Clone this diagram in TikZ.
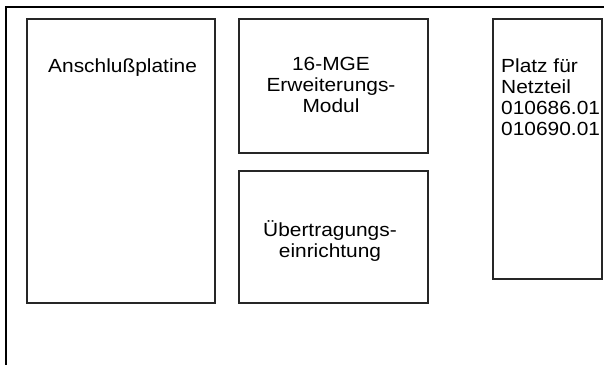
\documentclass[tikz,border=0pt]{standalone}
\usepackage{fontspec}
\setmainfont{Liberation Sans}
\begin{document}
\begin{tikzpicture}[x=1pt,y=-1pt,
  box/.style={draw=black!85,line width=1.2pt},
  lbl/.style={font=\fontsize{19}{21}\selectfont,inner sep=0pt,xscale=1.1}]
\useasboundingbox (0,0) rectangle (604,365);
\draw[line width=1.2pt] (604,7) -- (6,7) -- (6,365);
\draw[box] (27,19) rectangle (215,303);
\draw[box] (239,19) rectangle (428,153);
\draw[box] (239,171) rectangle (428,303);
\draw[box] (493,19) rectangle (602,279);
\node[lbl,anchor=base west] (a) at (48,72) {Anschlußplatine};
\node[lbl,anchor=north,align=center] (b) at (331,57) {16-MGE\\Erweiterungs-\\Modul};
\node[lbl,anchor=north,align=center] (c) at (330,220) {Übertragungs-\\einrichtung};
\node[lbl,anchor=north west,align=left] (d) at (501,59) {Platz für\\Netzteil\\010686.01\\010690.01};
\end{tikzpicture}
\end{document}
